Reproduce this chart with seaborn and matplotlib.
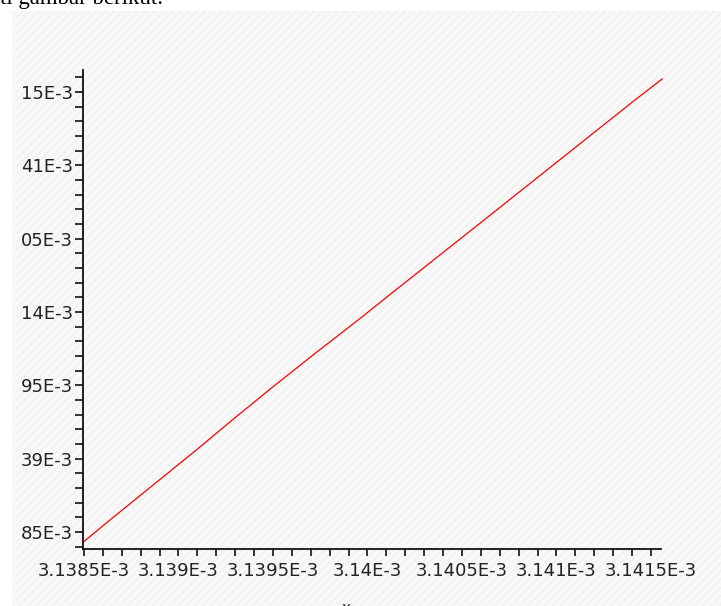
import matplotlib
matplotlib.use("Agg")
import matplotlib.pyplot as plt
from matplotlib.patches import Rectangle
import numpy as np
import pandas as pd
import seaborn as sns

# ---- data ----
x_vals = [3.138495e-3, 3.13865e-3, 3.13888e-3, 3.13910e-3, 3.13930e-3, 3.13950e-3,
          3.13972e-3, 3.13995e-3, 3.14012e-3, 3.14035e-3, 3.14060e-3, 3.14080e-3,
          3.14100e-3, 3.14120e-3, 3.14140e-3, 3.14156e-3]
y_vals = [-0.14, 0.19, 0.67, 1.13, 1.56, 1.98,
          2.43, 2.89, 3.24, 3.71, 4.22, 4.63,
          5.04, 5.45, 5.86, 6.18]
x_tick_vals = [3.1385e-3, 3.139e-3, 3.1395e-3, 3.14e-3, 3.1405e-3, 3.141e-3, 3.1415e-3]
x_tick_labels = ["3.1385E-3", "3.139E-3", "3.1395E-3", "3.14E-3", "3.1405E-3", "3.141E-3", "3.1415E-3"]
y_tick_vals = [0, 1, 2, 3, 4, 5, 6]
y_tick_labels = ["85E-3", "39E-3", "95E-3", "14E-3", "05E-3", "41E-3", "15E-3"]

sns.set_style("white")
W, H = 721, 606
fig = plt.figure(figsize=(W / 100, H / 100), dpi=100)
fig.patch.set_facecolor("white")

# background panel (screenshot area)
bg = fig.add_axes([0, 0, 1, 1], zorder=0)
bg.set_xlim(0, W)
bg.set_ylim(H, 0)
bg.axis("off")
bg.add_patch(Rectangle((12, 11), W - 12, H - 11, facecolor="#f8f8f8",
                       edgecolor="#f1f1f1", hatch="////", linewidth=0))
bg.text(0, 4, "ti gambar berikut.", family="Liberation Serif", fontsize=16.5,
        va="baseline", ha="left", color="black")
bg.text(346, 601, "x", family="DejaVu Sans", fontsize=11, va="top", ha="center", color="#222")

# main axes in pixel placement
left, right, top, bottom = 83, 661, 70, 549
ax = fig.add_axes([left / W, 1 - bottom / H, (right - left) / W, (bottom - top) / H], zorder=1)
ax.patch.set_alpha(0)

df = pd.DataFrame({"x": x_vals, "y": y_vals})
sns.lineplot(data=df, x="x", y="y", ax=ax, color="#ff0000", linewidth=0.9)
for l in ax.lines:
    l.set_clip_on(False)

ax.set_xlim(3.138495e-3, 3.141553e-3)
ax.set_ylim(-0.232, 6.3)
ax.set_xticks(x_tick_vals)
ax.set_xticklabels(x_tick_labels)
ax.set_yticks(y_tick_vals)
ax.set_yticklabels(y_tick_labels)
ax.set_xticks(np.arange(3.1385e-3, 3.14156e-3, 1e-7), minor=True)
ax.set_yticks(np.arange(-0.2, 6.31, 0.2), minor=True)

for s in ["top", "right"]:
    ax.spines[s].set_visible(False)
for s in ["left", "bottom"]:
    ax.spines[s].set_color("#111")
    ax.spines[s].set_linewidth(1.3)

ax.tick_params(axis="both", which="both", direction="out", color="#111", width=1.2,
               bottom=True, left=True, top=False, right=False)
ax.tick_params(axis="x", which="both", length=5, pad=4, labelsize=13, labelcolor="#222")
ax.tick_params(axis="y", which="both", length=6, pad=1, labelsize=13, labelcolor="#222")
for t in ax.get_xticklabels() + ax.get_yticklabels():
    t.set_family("DejaVu Sans")
ax.set_xlabel("")
ax.set_ylabel("")
ax.grid(False)

fig.savefig("out.png", dpi=100)
